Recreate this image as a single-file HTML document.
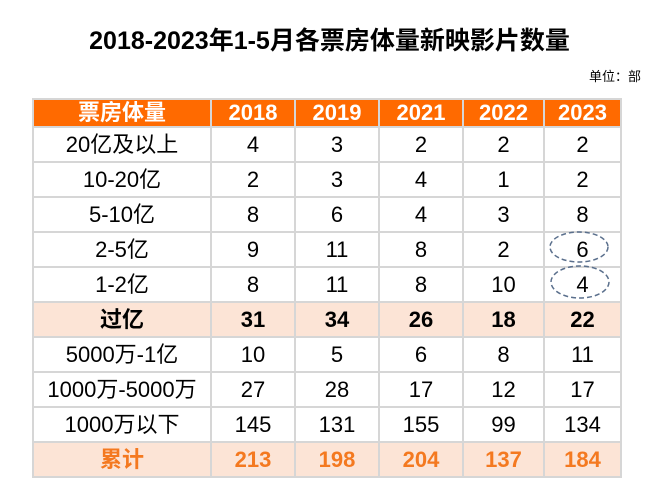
<!DOCTYPE html>
<html><head><meta charset="utf-8"><style>
body{margin:0;width:659px;height:497px;background:#fff;position:relative;overflow:hidden;font-family:"Liberation Sans","Noto Sans CJK SC",sans-serif;}
#title{position:absolute;left:0;width:659px;top:28px;text-align:center;font-size:25px;font-weight:bold;color:#000;line-height:1.1;}
#unit{position:absolute;right:18px;top:66px;font-size:13px;color:#000;}
table{position:absolute;left:32px;top:98px;border-collapse:collapse;table-layout:fixed;}
td{border:2px solid #d6d6d6;text-align:center;font-size:22px;line-height:1;padding:0;height:33px;color:#000;}
tr.h td{background:#FF6A00;color:#fff;font-weight:bold;height:26px;}
tr.s td{background:#FCE4D6;font-weight:bold;}
tr.t td{background:#FCE4D6;font-weight:bold;color:#F47920;}
svg{position:absolute;left:0;top:0;}
</style></head><body>
<div id="title">2018-2023年1-5月各票房体量新映影片数量</div>
<div id="unit">单位：部</div>
<table>
<colgroup><col style="width:178px"><col style="width:84px"><col style="width:84px"><col style="width:84px"><col style="width:81px"><col style="width:77px"></colgroup>
<tr class="h"><td>票房体量</td><td>2018</td><td>2019</td><td>2021</td><td>2022</td><td>2023</td></tr>
<tr><td>20亿及以上</td><td>4</td><td>3</td><td>2</td><td>2</td><td>2</td></tr>
<tr><td>10-20亿</td><td>2</td><td>3</td><td>4</td><td>1</td><td>2</td></tr>
<tr><td>5-10亿</td><td>8</td><td>6</td><td>4</td><td>3</td><td>8</td></tr>
<tr><td>2-5亿</td><td>9</td><td>11</td><td>8</td><td>2</td><td>6</td></tr>
<tr><td>1-2亿</td><td>8</td><td>11</td><td>8</td><td>10</td><td>4</td></tr>
<tr class="s"><td>过亿</td><td>31</td><td>34</td><td>26</td><td>18</td><td>22</td></tr>
<tr><td>5000万-1亿</td><td>10</td><td>5</td><td>6</td><td>8</td><td>11</td></tr>
<tr><td>1000万-5000万</td><td>27</td><td>28</td><td>17</td><td>12</td><td>17</td></tr>
<tr><td>1000万以下</td><td>145</td><td>131</td><td>155</td><td>99</td><td>134</td></tr>
<tr class="t"><td>累计</td><td>213</td><td>198</td><td>204</td><td>137</td><td>184</td></tr>
</table>
<svg width="659" height="497">
<ellipse cx="579" cy="247" rx="29" ry="15" fill="none" stroke="#5a6f8c" stroke-width="1.5" stroke-dasharray="5,3"/>
<ellipse cx="580" cy="282" rx="29" ry="16" fill="none" stroke="#5a6f8c" stroke-width="1.5" stroke-dasharray="5,3"/>
</svg>
</body></html>
